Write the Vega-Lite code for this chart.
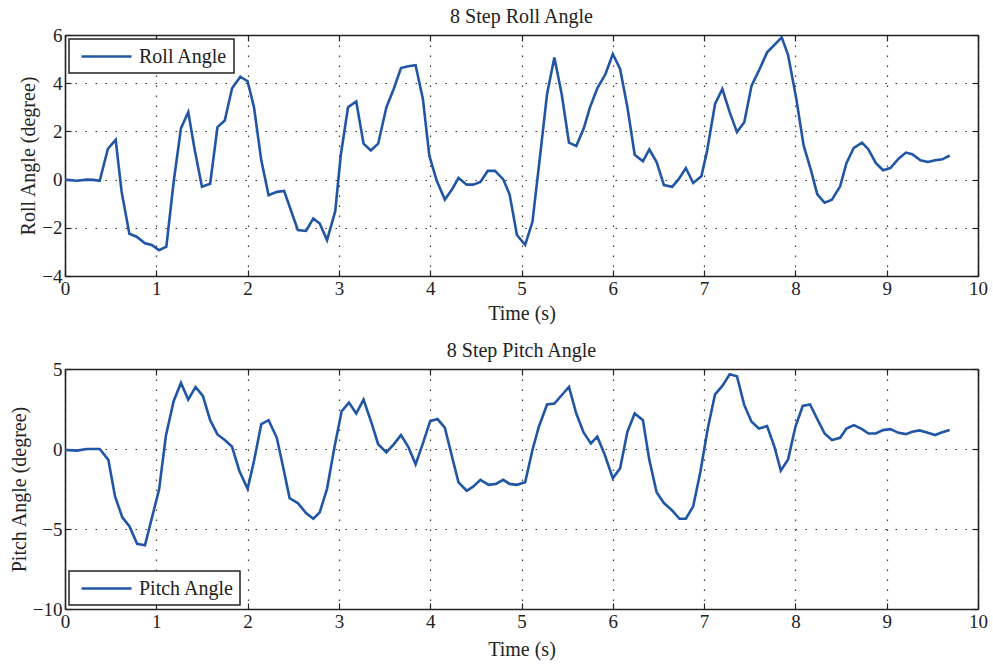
{
  "$schema": "https://vega.github.io/schema/vega-lite/v6.json",
  "padding": {"left": 9, "top": 7, "right": 3, "bottom": 2},
  "background": "white",
  "config": {
    "font": "Liberation Serif",
    "view": {"stroke": null},
    "axis": {
      "labelFont": "Liberation Serif",
      "titleFont": "Liberation Serif",
      "domainColor": "#222222",
      "domainWidth": 1.6,
      "tickColor": "#222222",
      "tickWidth": 1.2,
      "tickSize": -6,
      "labelFontSize": 19,
      "labelColor": "#222222",
      "labelFlush": false,
      "titleFontSize": 20,
      "titleFontWeight": "normal",
      "titleColor": "#222222",
      "gridColor": "#333333",
      "gridDash": [1.5, 8.5],
      "gridWidth": 1.2,
      "gridOpacity": 1
    },
    "title": {"font": "Liberation Serif", "fontSize": 20, "fontWeight": "normal", "color": "#222222", "offset": -1},
    "legend": {
      "title": null,
      "labelFont": "Liberation Serif",
      "strokeColor": "#222222",
      "strokeWidth": 1.5,
      "fillColor": "white",
      "padding": 6,
      "offset": 4,
      "symbolType": "M-2.5,0H2.5",
      "symbolSize": 400,
      "symbolOffset": 20,
      "symbolStrokeWidth": 2.6,
      "labelFontSize": 20,
      "labelColor": "#222222",
      "labelOffset": 21
    }
  },
  "datasets": {
    "roll": [
      {"t":0,"v":0},{"t":0.13,"v":-0.05},{"t":0.24,"v":0},{"t":0.31,"v":-0.01},{"t":0.38,"v":-0.05},{"t":0.47,"v":1.28},{"t":0.555,"v":1.65},{"t":0.62,"v":-0.5},{"t":0.705,"v":-2.25},{"t":0.785,"v":-2.37},{"t":0.876,"v":-2.64},{"t":0.95,"v":-2.71},{"t":1.03,"v":-2.93},{"t":1.11,"v":-2.78},{"t":1.19,"v":-0.1},{"t":1.27,"v":2.13},{"t":1.35,"v":2.8},{"t":1.42,"v":1.25},{"t":1.5,"v":-0.3},{"t":1.59,"v":-0.17},{"t":1.67,"v":2.18},{"t":1.75,"v":2.45},{"t":1.83,"v":3.79},{"t":1.92,"v":4.27},{"t":2.0,"v":4.08},{"t":2.07,"v":3.0},{"t":2.15,"v":0.8},{"t":2.23,"v":-0.65},{"t":2.32,"v":-0.51},{"t":2.4,"v":-0.47},{"t":2.475,"v":-1.28},{"t":2.55,"v":-2.09},{"t":2.64,"v":-2.13},{"t":2.72,"v":-1.61},{"t":2.79,"v":-1.82},{"t":2.87,"v":-2.51},{"t":2.96,"v":-1.31},{"t":3.02,"v":1.0},{"t":3.1,"v":3.0},{"t":3.19,"v":3.24},{"t":3.27,"v":1.49},{"t":3.35,"v":1.21},{"t":3.43,"v":1.49},{"t":3.52,"v":3.0},{"t":3.6,"v":3.76},{"t":3.68,"v":4.63},{"t":3.76,"v":4.7},{"t":3.84,"v":4.75},{"t":3.92,"v":3.35},{"t":3.99,"v":1.0},{"t":4.07,"v":-0.03},{"t":4.16,"v":-0.83},{"t":4.24,"v":-0.4},{"t":4.31,"v":0.07},{"t":4.4,"v":-0.21},{"t":4.47,"v":-0.21},{"t":4.55,"v":-0.1},{"t":4.63,"v":0.36},{"t":4.71,"v":0.36},{"t":4.8,"v":0.01},{"t":4.87,"v":-0.62},{"t":4.95,"v":-2.3},{"t":5.04,"v":-2.71},{"t":5.12,"v":-1.75},{"t":5.2,"v":0.87},{"t":5.28,"v":3.55},{"t":5.36,"v":5.07},{"t":5.44,"v":3.55},{"t":5.52,"v":1.53},{"t":5.6,"v":1.39},{"t":5.68,"v":2.11},{"t":5.75,"v":3.0},{"t":5.83,"v":3.79},{"t":5.92,"v":4.38},{"t":6.0,"v":5.21},{"t":6.08,"v":4.59},{"t":6.16,"v":3.0},{"t":6.24,"v":1.03},{"t":6.33,"v":0.76},{"t":6.4,"v":1.25},{"t":6.48,"v":0.73},{"t":6.56,"v":-0.23},{"t":6.65,"v":-0.3},{"t":6.72,"v":0.01},{"t":6.8,"v":0.48},{"t":6.88,"v":-0.14},{"t":6.97,"v":0.14},{"t":7.03,"v":1.14},{"t":7.12,"v":3.14},{"t":7.2,"v":3.76},{"t":7.28,"v":2.8},{"t":7.36,"v":1.97},{"t":7.44,"v":2.38},{"t":7.52,"v":3.9},{"t":7.6,"v":4.52},{"t":7.69,"v":5.28},{"t":7.77,"v":5.59},{"t":7.85,"v":5.9},{"t":7.92,"v":5.17},{"t":8.01,"v":3.35},{"t":8.09,"v":1.42},{"t":8.17,"v":0.39},{"t":8.24,"v":-0.61},{"t":8.32,"v":-0.96},{"t":8.4,"v":-0.83},{"t":8.49,"v":-0.28},{"t":8.56,"v":0.69},{"t":8.64,"v":1.32},{"t":8.73,"v":1.53},{"t":8.8,"v":1.25},{"t":8.88,"v":0.69},{"t":8.96,"v":0.39},{"t":9.04,"v":0.48},{"t":9.13,"v":0.87},{"t":9.21,"v":1.12},{"t":9.28,"v":1.05},{"t":9.37,"v":0.8},{"t":9.45,"v":0.73},{"t":9.53,"v":0.8},{"t":9.61,"v":0.84},{"t":9.69,"v":1.0}
    ],
    "pitch": [
      {"t":0,"v":-0.06},{"t":0.13,"v":-0.1},{"t":0.24,"v":0},{"t":0.38,"v":0},{"t":0.475,"v":-0.68},{"t":0.548,"v":-2.97},{"t":0.628,"v":-4.27},{"t":0.705,"v":-4.83},{"t":0.79,"v":-5.93},{"t":0.876,"v":-6.02},{"t":0.953,"v":-4.27},{"t":1.03,"v":-2.55},{"t":1.105,"v":0.83},{"t":1.19,"v":2.99},{"t":1.27,"v":4.13},{"t":1.35,"v":3.09},{"t":1.43,"v":3.88},{"t":1.51,"v":3.32},{"t":1.59,"v":1.8},{"t":1.67,"v":0.91},{"t":1.75,"v":0.56},{"t":1.83,"v":0.14},{"t":1.91,"v":-1.37},{"t":2.0,"v":-2.49},{"t":2.07,"v":-0.75},{"t":2.15,"v":1.56},{"t":2.23,"v":1.8},{"t":2.32,"v":0.7},{"t":2.39,"v":-1.16},{"t":2.46,"v":-3.07},{"t":2.55,"v":-3.38},{"t":2.64,"v":-4.0},{"t":2.72,"v":-4.36},{"t":2.79,"v":-3.96},{"t":2.87,"v":-2.49},{"t":2.95,"v":0.08},{"t":3.03,"v":2.36},{"t":3.11,"v":2.9},{"t":3.19,"v":2.22},{"t":3.27,"v":3.09},{"t":3.36,"v":1.59},{"t":3.43,"v":0.3},{"t":3.52,"v":-0.21},{"t":3.6,"v":0.29},{"t":3.68,"v":0.87},{"t":3.76,"v":0.14},{"t":3.84,"v":-0.96},{"t":3.92,"v":0.35},{"t":4.0,"v":1.74},{"t":4.08,"v":1.87},{"t":4.16,"v":1.33},{"t":4.23,"v":-0.27},{"t":4.31,"v":-2.08},{"t":4.4,"v":-2.61},{"t":4.47,"v":-2.35},{"t":4.55,"v":-1.93},{"t":4.64,"v":-2.24},{"t":4.72,"v":-2.18},{"t":4.8,"v":-1.93},{"t":4.87,"v":-2.18},{"t":4.95,"v":-2.24},{"t":5.04,"v":-2.08},{"t":5.12,"v":-0.06},{"t":5.19,"v":1.39},{"t":5.28,"v":2.78},{"t":5.36,"v":2.84},{"t":5.44,"v":3.36},{"t":5.52,"v":3.88},{"t":5.6,"v":2.22},{"t":5.68,"v":1.03},{"t":5.76,"v":0.35},{"t":5.83,"v":0.77},{"t":5.91,"v":-0.33},{"t":6.0,"v":-1.83},{"t":6.08,"v":-1.21},{"t":6.16,"v":1.08},{"t":6.24,"v":2.22},{"t":6.33,"v":1.8},{"t":6.4,"v":-0.68},{"t":6.48,"v":-2.7},{"t":6.56,"v":-3.38},{"t":6.65,"v":-3.84},{"t":6.73,"v":-4.36},{"t":6.8,"v":-4.36},{"t":6.88,"v":-3.59},{"t":6.96,"v":-1.41},{"t":7.04,"v":1.28},{"t":7.12,"v":3.42},{"t":7.2,"v":3.94},{"t":7.28,"v":4.67},{"t":7.36,"v":4.54},{"t":7.44,"v":2.74},{"t":7.52,"v":1.7},{"t":7.6,"v":1.28},{"t":7.69,"v":1.43},{"t":7.77,"v":0.14},{"t":7.84,"v":-1.35},{"t":7.92,"v":-0.65},{"t":8.0,"v":1.39},{"t":8.08,"v":2.69},{"t":8.16,"v":2.78},{"t":8.24,"v":1.87},{"t":8.32,"v":0.97},{"t":8.4,"v":0.56},{"t":8.49,"v":0.7},{"t":8.56,"v":1.28},{"t":8.64,"v":1.49},{"t":8.73,"v":1.24},{"t":8.8,"v":0.97},{"t":8.88,"v":0.97},{"t":8.96,"v":1.18},{"t":9.04,"v":1.24},{"t":9.13,"v":1.01},{"t":9.21,"v":0.93},{"t":9.28,"v":1.08},{"t":9.36,"v":1.16},{"t":9.45,"v":1.01},{"t":9.53,"v":0.87},{"t":9.6,"v":1.03},{"t":9.69,"v":1.18}
    ]
  },
  "vconcat": [
    {
      "title": "8 Step Roll Angle",
      "width": 913,
      "height": 241,
      "data": {"name": "roll"},
      "layer": [
        {
          "mark": {"type": "line", "strokeWidth": 2.6, "interpolate": "linear"},
          "encoding": {
            "x": {"field": "t", "type": "quantitative", "scale": {"domain": [0, 10], "nice": false},
                  "axis": {"orient": "bottom", "values": [0,1,2,3,4,5,6,7,8,9,10], "title": "Time (s)", "grid": true, "labelPadding": 9, "titlePadding": 5}},
            "y": {"field": "v", "type": "quantitative", "scale": {"domain": [-4, 6], "nice": false},
                  "axis": {"orient": "left", "values": [-4,-2,0,2,4,6], "title": "Roll Angle (degree)", "grid": true, "labelPadding": 9, "titlePadding": 3}},
            "color": {"datum": "Roll Angle", "type": "nominal", "scale": {"range": ["#2156a5"]},
                      "legend": {"orient": "top-left"}}
          }
        },
        {
          "mark": {"type": "line", "strokeOpacity": 0},
          "encoding": {
            "x": {"field": "t", "type": "quantitative", "axis": {"orient": "top", "values": [0,1,2,3,4,5,6,7,8,9,10], "labels": false, "title": null, "grid": false}},
            "y": {"field": "v", "type": "quantitative", "axis": {"orient": "right", "values": [-4,-2,0,2,4,6], "labels": false, "title": null, "grid": false}}
          }
        }
      ]
    },
    {
      "title": "8 Step Pitch Angle",
      "width": 913,
      "height": 240,
      "data": {"name": "pitch"},
      "layer": [
        {
          "mark": {"type": "line", "strokeWidth": 2.6, "interpolate": "linear"},
          "encoding": {
            "x": {"field": "t", "type": "quantitative", "scale": {"domain": [0, 10], "nice": false},
                  "axis": {"orient": "bottom", "values": [0,1,2,3,4,5,6,7,8,9,10], "title": "Time (s)", "grid": true, "labelPadding": 9, "titlePadding": 8}},
            "y": {"field": "v", "type": "quantitative", "scale": {"domain": [-10, 5], "nice": false},
                  "axis": {"orient": "left", "values": [-10,-5,0,5], "title": "Pitch Angle (degree)", "grid": true, "labelPadding": 9, "titlePadding": 3}},
            "color": {"datum": "Pitch Angle", "type": "nominal", "scale": {"range": ["#2156a5"]},
                      "legend": {"orient": "bottom-left"}}
          }
        },
        {
          "mark": {"type": "line", "strokeOpacity": 0},
          "encoding": {
            "x": {"field": "t", "type": "quantitative", "axis": {"orient": "top", "values": [0,1,2,3,4,5,6,7,8,9,10], "labels": false, "title": null, "grid": false}},
            "y": {"field": "v", "type": "quantitative", "axis": {"orient": "right", "values": [-10,-5,0,5], "labels": false, "title": null, "grid": false}}
          }
        }
      ]
    }
  ],
  "spacing": 18,
  "resolve": {"scale": {"color": "independent", "x": "independent", "y": "independent"}}
}
